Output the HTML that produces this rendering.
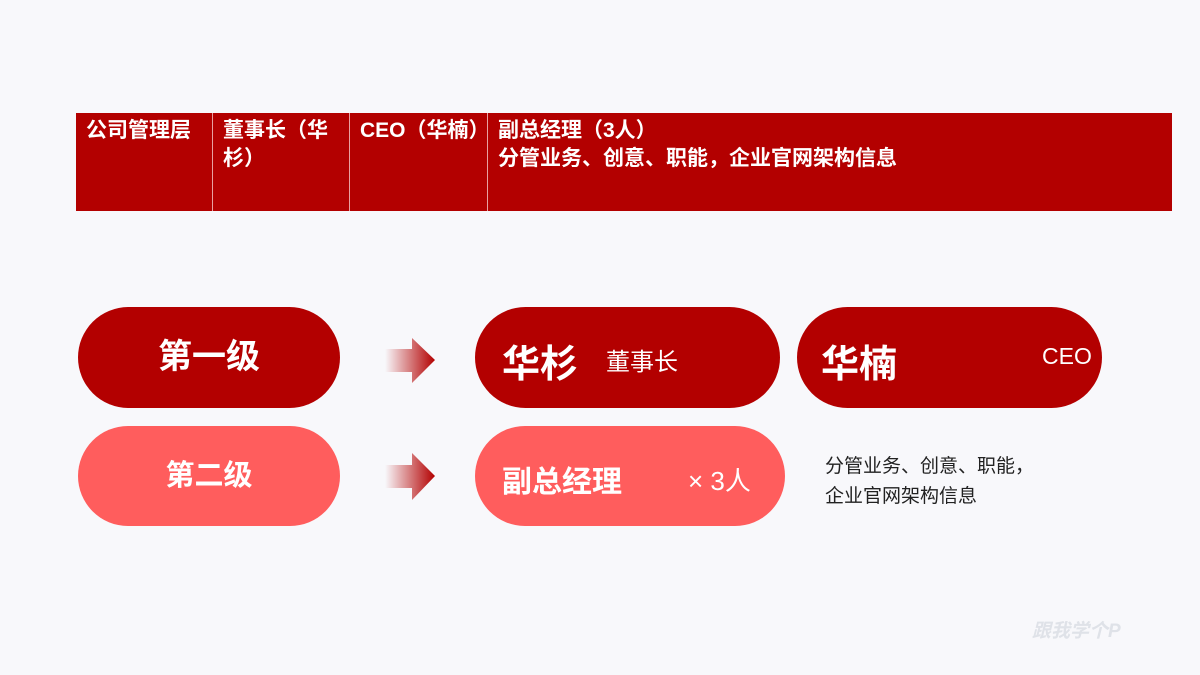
<!DOCTYPE html>
<html><head><meta charset="utf-8"><style>
body{margin:0;width:1200px;height:675px;background:#f8f8fb;position:relative;overflow:hidden;font-family:"Liberation Sans","Noto Sans CJK SC",sans-serif;}
.t{position:absolute;top:113px;height:98px;background:#b30000;color:#fff;font-weight:bold;font-size:21px;line-height:28px;padding:4px 0 0 10px;box-sizing:border-box;white-space:nowrap;}
.p{position:absolute;border-radius:51px;color:#fff;}
.a{position:absolute;}
</style></head><body>
<div class="t" style="left:76px;width:136px">公司管理层</div>
<div class="t" style="left:213px;width:136px">董事长（华<br>杉）</div>
<div class="t" style="left:350px;width:137px">CEO（华楠）</div>
<div class="t" style="left:488px;width:684px">副总经理（3人）<br>分管业务、创意、职能，企业官网架构信息</div>
<div style="position:absolute;left:212px;top:113px;width:1px;height:98px;background:#e9a0a0"></div>
<div style="position:absolute;left:349px;top:113px;width:1px;height:98px;background:#e9a0a0"></div>
<div style="position:absolute;left:487px;top:113px;width:1px;height:98px;background:#e9a0a0"></div>

<div class="p" style="left:78px;top:307px;width:262px;height:101px;background:#b30000;text-align:center;line-height:101px;font-size:34px;font-weight:bold">第一级</div>
<div class="p" style="left:475px;top:307px;width:305px;height:101px;background:#b30000">
<span style="position:absolute;left:27px;top:26px;font-size:38px;font-weight:bold">华杉</span>
<span style="position:absolute;left:131px;top:35px;font-size:24px">董事长</span></div>
<div class="p" style="left:797px;top:307px;width:305px;height:101px;background:#b30000">
<span style="position:absolute;left:24px;top:26px;font-size:38px;font-weight:bold">华楠</span>
<span style="position:absolute;left:245px;top:36px;font-size:23px">CEO</span></div>

<div class="p" style="left:78px;top:426px;width:262px;height:100px;background:#ff5d5d;text-align:center;line-height:100px;font-size:29px;font-weight:bold">第二级</div>
<div class="p" style="left:475px;top:426px;width:310px;height:100px;background:#ff5d5d">
<span style="position:absolute;left:27px;top:31px;font-size:30px;font-weight:bold">副总经理</span>
<span style="position:absolute;left:213px;top:35px;font-size:26px">× 3人</span></div>

<div style="position:absolute;left:825px;top:452px;font-size:19px;line-height:30px;color:#222">分管业务、创意、职能，<br>企业官网架构信息</div>

<svg class="a" style="left:0;top:0" width="1200" height="675">
<defs><linearGradient id="g" x1="0" x2="1"><stop offset="0" stop-color="#b30000" stop-opacity="0"/><stop offset="1" stop-color="#b30000"/></linearGradient></defs>
<polygon points="385,349 412,349 412,338 435,360 412,383 412,372 385,372" fill="url(#g)"/>
<polygon points="385,465 412,465 412,453 435,476 412,500 412,488 385,488" fill="url(#g)"/>
</svg>
<div style="position:absolute;left:1032px;top:616px;font-size:19px;font-weight:bold;font-style:italic;color:#dfe2e8">跟我学个P</div>
</body></html>
